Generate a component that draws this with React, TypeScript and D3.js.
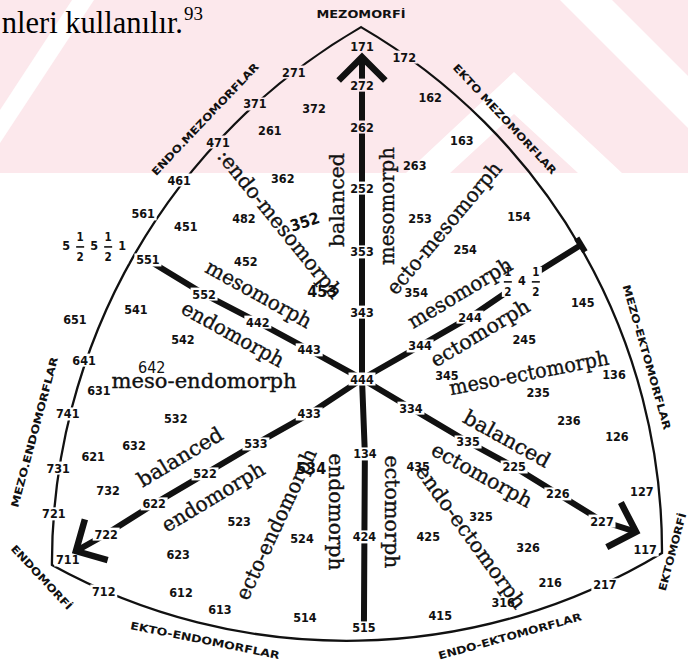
import React, { useEffect, useRef } from 'react';
import * as d3 from 'd3';

// somatotypes printed on the chart: [code, X, Y]
// X = ecto - endo, Y = 2*meso - endo - ecto, positions
const somatotypes: [string, number, number][] = [
  ['171', 0, 12.0], ['172', 0.88, 11.6], ['271', -1.42, 11.06], ['272', 0, 10.59],
  ['371', -2.23, 9.91], ['372', -1.0, 9.73], ['162', 1.42, 10.13], ['262', 0, 9.08],
  ['261', -1.92, 8.97], ['471', -3.0, 8.54], ['163', 2.08, 8.61], ['263', 1.1, 7.71],
  ['461', -3.81, 7.17], ['362', -1.65, 7.24], ['252', 0, 6.88], ['561', -4.56, 5.95],
  ['451', -3.67, 5.48], ['482', -2.46, 5.8], ['253', 1.21, 5.8], ['154', 3.27, 5.84],
  ['452', -2.42, 4.25], ['551', -4.46, 4.29], ['353', 0, 4.58], ['254', 2.15, 4.65],
  ['552', -3.29, 3.06], ['354', 1.13, 3.1], ['541', -4.71, 2.52], ['651', -5.98, 2.13],
  ['442', -2.17, 2.05], ['343', 0, 2.41], ['145', 4.6, 2.74], ['244', 2.25, 2.23],
  ['542', -3.73, 1.44], ['245', 3.38, 1.44], ['443', -1.1, 1.05], ['344', 1.21, 1.19],
  ['641', -5.79, 0.68], ['136', 5.25, 0.18], ['345', 1.77, 0.11], ['444', 0, 0],
  ['631', -5.48, -0.4], ['235', 3.67, -0.47], ['741', -6.13, -1.26], ['433', -1.1, -1.26],
  ['532', -3.88, -1.44], ['334', 1.02, -1.05], ['236', 4.31, -1.48], ['126', 5.31, -2.09],
  ['533', -2.21, -2.34], ['632', -4.75, -2.41], ['335', 2.21, -2.27], ['134', 0.06, -2.7],
  ['621', -5.6, -2.81], ['731', -6.33, -3.21], ['522', -3.27, -3.42], ['225', 3.17, -3.17],
  ['435', 1.17, -3.17], ['732', -5.29, -4.0], ['127', 5.83, -4.04], ['226', 4.08, -4.14],
  ['622', -4.33, -4.5], ['721', -6.42, -4.86], ['523', -2.56, -5.12], ['325', 2.48, -4.97],
  ['227', 5.0, -5.12], ['722', -5.33, -5.59], ['524', -1.25, -5.73], ['424', 0.05, -5.69],
  ['425', 1.38, -5.69], ['623', -3.83, -6.34], ['326', 3.46, -6.09], ['711', -6.13, -6.52],
  ['117', 5.9, -6.16], ['216', 3.92, -7.32], ['217', 5.06, -7.42], ['712', -5.38, -7.64],
  ['612', -3.77, -7.71], ['316', 2.94, -8.07], ['613', -2.96, -8.29], ['415', 1.63, -8.54],
  ['514', -1.19, -8.61], ['515', 0.04, -8.97],
];

// larger overprinted numbers
const overprints: [string, number, number][] = [
  ['642', -4.38, 0.4],
  ['352', -1.19, 5.66],
  ['453', -0.83, 3.14],
  ['534', -1.06, -3.21],
];

// half-point somatotypes (5½-5½-1 and ½-4-½)
const halfTypes: [string, string[], number, number][] = [
  ['half1', ['5', '1/2', '5', '1/2', '1'], -5.58, 4.76],
  ['half2', ['1/2', '4', '1/2'], 3.33, 3.5],
];

const descriptors: [string, number, number][] = [
  [':endo-mesomorph', -1.71, 5.59],
  ['balanced', -0.52, 6.45],
  ['mesomorph', 0.52, 6.23],
  ['ecto-mesomorph', 1.71, 5.44],
  ['mesomorph', 2.04, 3.1],
  ['ectomorph', 2.46, 1.66],
  ['meso-ectomorph', 3.48, 0.22],
  ['meso-endomorph', -3.29, -0.07],
  ['mesomorph', -2.15, 3.06],
  ['endomorph', -2.69, 1.62],
  ['balanced', -3.79, -2.81],
  ['endomorph', -3.1, -4.25],
  ['ecto-endomorph', -1.79, -5.23],
  ['endomorph', -0.54, -4.79],
  ['ectomorph', 0.63, -4.79],
  ['balanced', 3.02, -2.16],
  ['ectomorph', 2.5, -3.46],
  ['endo-ectomorph', 2.27, -5.69],
];

const regions: [string, number, number][] = [
  ['MEZOMORFİ', -0.02, 13.15],
  ['ENDO.MEZOMORFLAR', -3.27, 9.37],
  ['EKTO MEZOMORFLAR', 2.98, 9.37],
  ['MEZO-EKTOMORFLAR', 5.94, 0.79],
  ['EKTOMORFİ', 6.46, -6.23],
  ['ENDO-EKTOMORFLAR', 3.08, -9.26],
  ['EKTO-ENDOMORFLAR', -3.27, -9.41],
  ['ENDOMORFİ', -6.67, -7.14],
  ['MEZO.ENDOMORFLAR', -6.83, -1.91],
];

// corners of the curved triangle
const corners: [string, number, number][] = [
  ['meso', -0.02, 12.68],
  ['endo', -6.46, -6.7],
  ['ecto', 6.25, -6.27],
];

// ends of the thick lines that are not somatotypes
const lineEnds: [string, number, number][] = [
  ['tipMeso', 0, 11.6],
  ['tipEndo', -5.96, -6.2],
  ['tipEcto', 5.71, -5.51],
  ['edgeMesoEcto', 4.56, 4.83],
];

const axes: string[][] = [
  ['tipMeso', '272', '262', '252', '353', '343', '444', '134', '424', '515'],
  ['444', '443', '442', '552', '551'],
  ['444', '433', '533', '522', '622', '722', 'tipEndo'],
  ['444', '334', '335', '225', '226', '227', 'tipEcto'],
  ['444', '344', '244', 'half2', 'edgeMesoEcto'],
];

const arrows: [string, string][] = [['tipMeso', '272'], ['tipEndo', '722'], ['tipEcto', '227']];

// layout of the rotated texts
const descriptorAngle = [51, -90, -90, -50, -31, -31, -11, 0, 29, 29, -31, -31, -65, 90, 90, 29, 29, 54];
const descriptorLength = [185, 94, 118, 166, 118, 112, 162, 185, 118, 114, 96, 116, 164, 117, 113, 96, 112, 172];
const regionAngle = [0, -46.5, 47, 74, -75, -15.5, 11.4, 47, -75];
const regionLength = [89, 150, 146, 150, 80, 148, 152, 84, 155];

// faint watermark of the scanned page
const watermarkBands = [
  [[0, 110], [72, 0], [94, 0], [0, 143]],
  [[406, 173], [514, 72], [622, 173], [578, 173], [514, 114], [450, 173]],
  [[560, 0], [612, 0], [688, 76], [688, 128]],
];

const width = 688;
const height = 666;
const numFont = "'DejaVu Sans Condensed', 'DejaVu Sans', sans-serif";

function Somatochart() {
  const ref = useRef<SVGSVGElement>(null);

  useEffect(() => {
    const svg = d3.select(ref.current);
    svg.selectAll('*').remove();

    const x = d3.scaleLinear().domain([-6, 6]).range([74, 650]);
    const y = d3.scaleLinear().domain([-6, 12]).range([545.5, 46]);

    const pos = new Map<string, [number, number]>();
    somatotypes.forEach(([c, sx, sy]) => pos.set(c, [x(sx), y(sy)]));
    halfTypes.forEach(([id, , sx, sy]) => pos.set(id, [x(sx), y(sy)]));
    lineEnds.forEach(([id, sx, sy]) => pos.set(id, [x(sx), y(sy)]));

    svg.append('rect').attr('width', width).attr('height', height).attr('fill', '#fff');
    const wm = svg.append('g');
    wm.append('rect').attr('width', width).attr('height', 173).attr('fill', '#fce8ec');
    wm.selectAll('polygon').data(watermarkBands).join('polygon')
      .attr('points', d => d.map(p => p.join(',')).join(' '))
      .attr('fill', '#fff');

    // running text above the figure
    svg.append('text')
      .attr('x', 183).attr('y', 33)
      .attr('text-anchor', 'end')
      .attr('font-family', "'Liberation Serif', 'Times New Roman', serif")
      .attr('font-size', 30.5)
      .text('nleri kullanılır.');
    svg.append('text')
      .attr('x', 184).attr('y', 20)
      .attr('font-family', "'Liberation Serif', 'Times New Roman', serif")
      .attr('font-size', 19)
      .text('93');

    // mask so that the lines break around the numbers
    const cutBoxes: { p: [number, number]; w: number; h: number }[] = [
      ...somatotypes.map(([c]) => ({ p: pos.get(c)!, w: 27, h: 13 })),
      ...overprints.map(([, sx, sy]) => ({ p: [x(sx), y(sy)] as [number, number], w: 32, h: 17 })),
      { p: pos.get('half1')!, w: 68, h: 34 },
      { p: pos.get('half2')!, w: 40, h: 30 },
    ];
    const mask = svg.append('defs').append('mask')
      .attr('id', 'label-cut')
      .attr('maskUnits', 'userSpaceOnUse')
      .attr('x', 0).attr('y', 0).attr('width', width).attr('height', height);
    mask.append('rect').attr('width', width).attr('height', height).attr('fill', '#fff');
    mask.selectAll('rect.cut').data(cutBoxes).join('rect')
      .attr('class', 'cut')
      .attr('x', d => d.p[0] - d.w / 2)
      .attr('y', d => d.p[1] - d.h / 2)
      .attr('width', d => d.w)
      .attr('height', d => d.h)
      .attr('fill', '#000');

    const lines = svg.append('g').attr('mask', 'url(#label-cut)');

    // curved triangle outline (each side an arc centred near the opposite corner)
    const [T, BL, BR] = corners.map(([, cx, cy]) => [x(cx), y(cy)] as [number, number]);
    const dist = (a: number[], b: number[]) => Math.hypot(a[0] - b[0], a[1] - b[1]);
    const r1 = dist(T, BL), r2 = dist(BL, BR), r3 = dist(BR, T);
    lines.append('path')
      .attr('d', `M${T}A${r1},${r1} 0 0 0 ${BL}A${r2},${r2} 0 0 0 ${BR}A${r3},${r3} 0 0 0 ${T}Z`)
      .attr('fill', 'none')
      .attr('stroke', '#111')
      .attr('stroke-width', 2.3);

    const line = d3.line();
    lines.selectAll('path.axis').data(axes).join('path')
      .attr('class', 'axis')
      .attr('d', d => line(d.map(id => pos.get(id)!)))
      .attr('fill', 'none')
      .attr('stroke', '#111')
      .attr('stroke-width', 6);

    // cap where the meso-ecto line meets the outline
    const [ex, ey] = pos.get('edgeMesoEcto')!;
    const [ox, oy] = pos.get('444')!;
    const ang = Math.atan2(ey - oy, ex - ox) + Math.PI / 2;
    svg.append('line')
      .attr('x1', ex - 8 * Math.cos(ang)).attr('y1', ey - 8 * Math.sin(ang))
      .attr('x2', ex + 8 * Math.cos(ang)).attr('y2', ey + 8 * Math.sin(ang))
      .attr('stroke', '#111').attr('stroke-width', 6);

    // arrow heads
    arrows.forEach(([tip, nb]) => {
      const [tx, ty] = pos.get(tip)!;
      const [nx, ny] = pos.get(nb)!;
      const a = Math.atan2(ny - ty, nx - tx);
      const arm = 33;
      const p1 = [tx + arm * Math.cos(a + Math.PI / 4), ty + arm * Math.sin(a + Math.PI / 4)];
      const p2 = [tx + arm * Math.cos(a - Math.PI / 4), ty + arm * Math.sin(a - Math.PI / 4)];
      svg.append('path')
        .attr('d', `M${p1}L${tx},${ty}L${p2}`)
        .attr('fill', 'none')
        .attr('stroke', '#111')
        .attr('stroke-width', 6.5);
    });

    // somatotype numbers
    svg.append('g').selectAll('text').data(somatotypes).join('text')
      .attr('x', d => x(d[1]))
      .attr('y', d => y(d[2]))
      .attr('text-anchor', 'middle')
      .attr('dominant-baseline', 'central')
      .attr('font-family', numFont)
      .attr('font-weight', 'bold')
      .attr('font-stretch', 'condensed')
      .attr('font-size', 12.5)
      .attr('fill', '#111')
      .text(d => d[0]);

    svg.append('g').selectAll('text').data(overprints).join('text')
      .attr('transform', d => `translate(${x(d[1])},${y(d[2])}) rotate(${d[0] === '352' ? -18 : 0})`)
      .attr('text-anchor', 'middle')
      .attr('dominant-baseline', 'central')
      .attr('font-family', numFont)
      .attr('font-weight', d => (d[0] === '642' ? 'normal' : 'bold'))
      .attr('font-size', 16)
      .attr('fill', '#111')
      .text(d => d[0]);

    // half-point somatotypes with stacked fractions
    halfTypes.forEach(([id, parts]) => {
      const [cx, cy] = pos.get(id)!;
      const step = 14;
      const x0 = cx - ((parts.length - 1) * step) / 2;
      const g = svg.append('g')
        .attr('font-family', numFont)
        .attr('font-weight', 'bold')
        .attr('text-anchor', 'middle')
        .attr('dominant-baseline', 'central')
        .attr('fill', '#111');
      parts.forEach((p, i) => {
        const px = x0 + i * step;
        if (p.includes('/')) {
          const [n, dd] = p.split('/');
          g.append('text').attr('x', px).attr('y', cy - 10).attr('font-size', 11.5).text(n);
          g.append('line')
            .attr('x1', px - 4).attr('x2', px + 4).attr('y1', cy).attr('y2', cy)
            .attr('stroke', '#111').attr('stroke-width', 1.6);
          g.append('text').attr('x', px).attr('y', cy + 10).attr('font-size', 11.5).text(dd);
        } else {
          g.append('text').attr('x', px).attr('y', cy - 1).attr('font-size', 12.5).text(p);
        }
      });
    });

    // type descriptions
    svg.append('g').selectAll('text').data(descriptors).join('text')
      .attr('transform', (d, i) => `translate(${x(d[1])},${y(d[2])}) rotate(${descriptorAngle[i]})`)
      .attr('text-anchor', 'middle')
      .attr('dominant-baseline', 'central')
      .attr('font-family', "'DejaVu Serif', serif")
      .attr('font-size', 20.5)
      .attr('textLength', (d, i) => descriptorLength[i])
      .attr('lengthAdjust', 'spacingAndGlyphs')
      .attr('fill', '#111')
      .attr('stroke', '#111')
      .attr('stroke-width', 0.35)
      .text(d => d[0]);

    // region names round the outline
    svg.append('g').selectAll('text').data(regions).join('text')
      .attr('transform', (d, i) => `translate(${x(d[1])},${y(d[2])}) rotate(${regionAngle[i]})`)
      .attr('text-anchor', 'middle')
      .attr('dominant-baseline', 'central')
      .attr('font-family', "'DejaVu Sans', sans-serif")
      .attr('font-weight', 'bold')
      .attr('font-size', 10.5)
      .attr('textLength', (d, i) => regionLength[i])
      .attr('lengthAdjust', 'spacingAndGlyphs')
      .attr('fill', '#111')
      .text(d => d[0]);
  }, []);

  return (
    <svg
      ref={ref}
      width={width}
      height={height}
      style={{ position: 'absolute', left: 0, top: 0 }}
    ></svg>
  );
}

export default function App() {
  return <Somatochart />;
}
